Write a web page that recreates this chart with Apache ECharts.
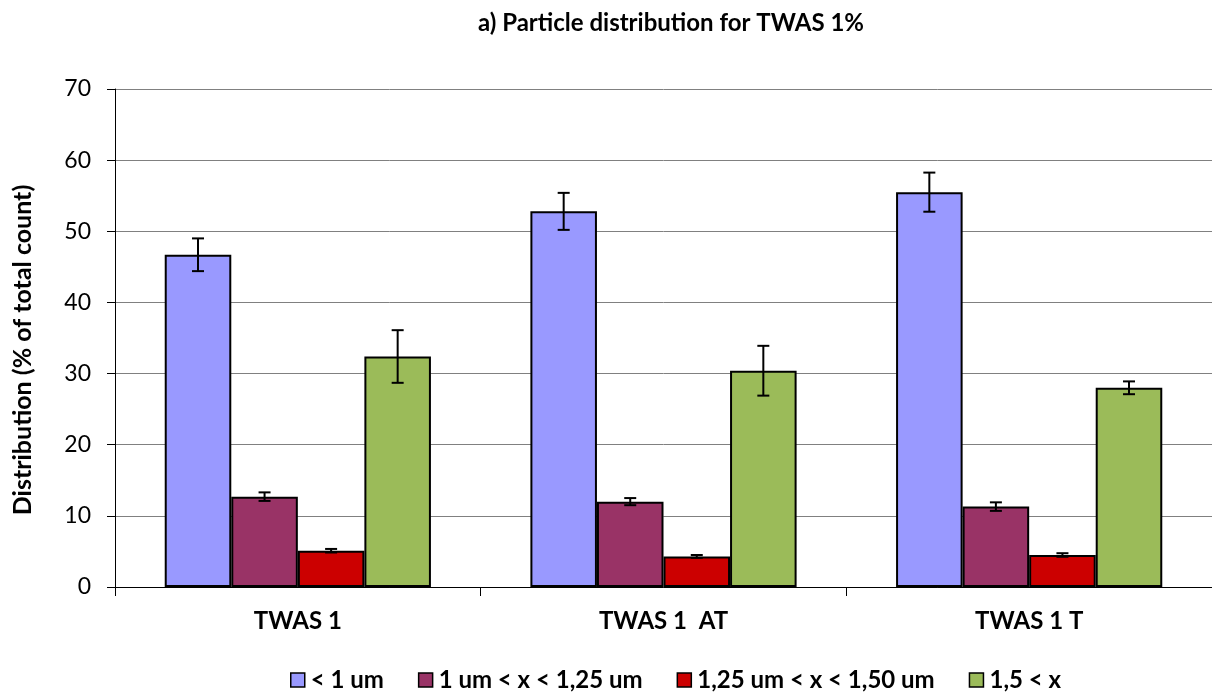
<!DOCTYPE html>
<html>
<head>
<meta charset="utf-8">
<script src="https://cdn.jsdelivr.net/npm/echarts@6/dist/echarts.min.js"></script>
<style>
  html, body { margin: 0; padding: 0; background: #fff; }
  #chart { width: 1212px; height: 696px; }
</style>
</head>
<body>
<div id="chart"></div>
<script>
// Sample groups and particle-size classes
const categories = ['TWAS 1', 'TWAS 1  AT', 'TWAS 1 T'];
const seriesNames = ['< 1 um', '1 um < x < 1,25 um', '1,25 um < x < 1,50 um', '1,5 < x'];

// Mean distribution (% of total count) per size class
const below1 = [46.7, 52.8, 55.5];
const from1to125 = [12.7, 12.0, 11.3];
const from125to150 = [5.1, 4.3, 4.5];
const above15 = [32.4, 30.4, 28.0];

// Standard deviation per size class
const below1Err = [2.3, 2.6, 2.75];
const from1to125Err = [0.6, 0.5, 0.6];
const from125to150Err = [0.25, 0.2, 0.25];
const above15Err = [3.7, 3.5, 0.9];

const yTicks = [0, 10, 20, 30, 40, 50, 60, 70];

const colors = ['#9999FF', '#993366', '#CC0000', '#9BBB59'];
const values = [below1, from1to125, from125to150, above15];
const errors = [below1Err, from1to125Err, from125to150Err, above15Err];

const FONT = 'Lato, "Open Sans", sans-serif';
const CAT_GAP = 0.272;

const chart = echarts.init(document.getElementById('chart'), null, { renderer: 'canvas' });

const barSeries = values.map((vals, i) => ({
  name: seriesNames[i],
  type: 'bar',
  data: vals,
  barGap: '0%',
  barCategoryGap: (CAT_GAP * 100) + '%',
  itemStyle: { color: colors[i], borderColor: '#000', borderWidth: 2 },
  emphasis: { disabled: true },
  z: 2
}));

// Error bars drawn on top of each bar, offset to its slot in the group
const errorSeries = values.map((vals, i) => ({
  name: seriesNames[i] + ' err',
  type: 'custom',
  z: 5,
  silent: true,
  data: vals.map((v, j) => [j, v, errors[i][j]]),
  renderItem: function (params, api) {
    const c = api.value(0), v = api.value(1), e = api.value(2);
    const band = api.size([1, 0])[0];
    const bw = band * (1 - CAT_GAP) / 4;
    const dx = (i - 1.5) * bw;
    const hi = api.coord([c, v + e]);
    const lo = api.coord([c, v - e]);
    const x = hi[0] + dx;
    const cap = 6;
    const style = { stroke: '#000', lineWidth: 2 };
    return {
      type: 'group',
      children: [
        { type: 'line', shape: { x1: x, y1: hi[1], x2: x, y2: lo[1] }, style: style },
        { type: 'line', shape: { x1: x - cap, y1: hi[1], x2: x + cap, y2: hi[1] }, style: style },
        { type: 'line', shape: { x1: x - cap, y1: lo[1], x2: x + cap, y2: lo[1] }, style: style }
      ]
    };
  }
}));

const option = {
  animation: false,
  backgroundColor: '#fff',
  title: {
    text: 'a) Particle distribution for TWAS 1%',
    left: 666,
    textAlign: 'center',
    top: 6,
    textStyle: { fontFamily: FONT, fontWeight: 'bold', fontSize: 24, color: '#000' }
  },
  legend: {
    data: seriesNames.map(n => ({ name: n, icon: 'rect' })),
    bottom: -1,
    left: 285,
    itemWidth: 14,
    itemHeight: 14,
    itemGap: 34,
    itemStyle: { borderColor: '#000', borderWidth: 1.5 },
    textStyle: { fontFamily: FONT, fontWeight: 'bold', fontSize: 24, color: '#000', padding: [0, 0, 0, 1] }
  },
  grid: { left: 115, right: -6, top: 89, bottom: 109, containLabel: false },
  xAxis: {
    type: 'category',
    data: categories,
    axisLine: { lineStyle: { color: '#000', width: 1 } },
    axisTick: { show: true, inside: false, length: 9, lineStyle: { color: '#000' }, alignWithLabel: false },
    axisLabel: { margin: 22, fontFamily: FONT, fontWeight: 'bold', fontSize: 24, color: '#000' }
  },
  yAxis: {
    type: 'value',
    min: yTicks[0],
    max: yTicks[yTicks.length - 1],
    interval: 10,
    name: 'Distribution (% of total count)',
    nameLocation: 'middle',
    nameGap: 80,
    nameRotate: 90,
    nameTextStyle: { fontFamily: FONT, fontWeight: 'bold', fontSize: 25, color: '#000', padding: [0, 24, 0, 0] },
    axisLine: { show: true, lineStyle: { color: '#000', width: 1 } },
    axisTick: { show: true, inside: false, length: 8, lineStyle: { color: '#000' } },
    axisLabel: { margin: 24, fontFamily: FONT, fontSize: 23, color: '#000' },
    splitLine: { show: true, lineStyle: { color: '#808080', width: 1 } }
  },
  series: barSeries.concat(errorSeries)
};

chart.setOption(option);
</script>
</body>
</html>
